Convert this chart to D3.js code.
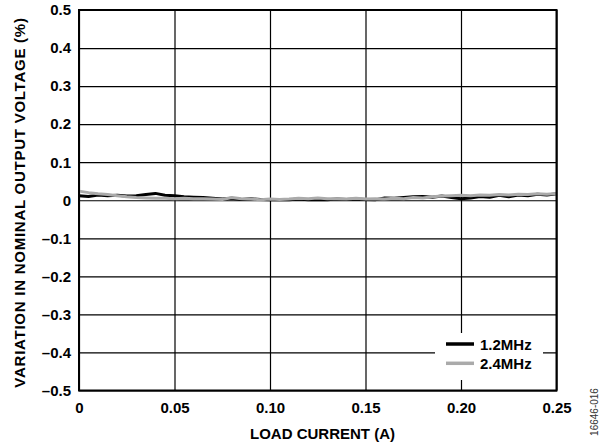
<!DOCTYPE html>
<html>
<head>
<meta charset="utf-8">
<script src="https://cdn.jsdelivr.net/npm/d3@7"></script>
<style>
  body { margin: 0; background: #fff; }
  svg { display: block; font-family: "Liberation Sans", Arial, sans-serif; }
</style>
</head>
<body>
<svg></svg>
<script>
// load regulation, 1.2MHz vs 2.4MHz

const width = 602;
const height = 444;

const margin = { top: 10, right: 45, bottom: 53.5, left: 79 };

// load current (A)
const loadCurrent = [
  0, 0.005, 0.01, 0.015, 0.02, 0.025, 0.03, 0.035, 0.04, 0.045,
  0.05, 0.055, 0.06, 0.065, 0.07, 0.075, 0.08, 0.085, 0.09, 0.095,
  0.1, 0.105, 0.11, 0.115, 0.12, 0.125, 0.13, 0.135, 0.14, 0.145,
  0.15, 0.155, 0.16, 0.165, 0.17, 0.175, 0.18, 0.185, 0.19, 0.195,
  0.2, 0.205, 0.21, 0.215, 0.22, 0.225, 0.23, 0.235, 0.24, 0.245, 0.25
];

// variation (%) at 1.2MHz
const var12 = [
  0.012, 0.010, 0.014, 0.012, 0.013, 0.011, 0.012, 0.015, 0.018, 0.013,
  0.012, 0.009, 0.008, 0.007, 0.005, 0.003, 0.005, 0.002, 0.004, 0.002,
  0.001, 0.002, 0.001, 0.003, 0.001, 0.002, 0.001, 0.003, 0.002, 0.003,
  0.002, 0.001, 0.006, 0.005, 0.007, 0.009, 0.010, 0.008, 0.011, 0.007,
  0.004, 0.006, 0.010, 0.008, 0.013, 0.009, 0.014, 0.012, 0.016, 0.014, 0.017
];

// variation (%) at 2.4MHz
const var24 = [
  0.024, 0.020, 0.017, 0.015, 0.012, 0.009, 0.007, 0.006, 0.005, 0.005,
  0.004, 0.005, 0.004, 0.004, 0.003, 0.002, 0.007, 0.004, 0.003, 0.001,
  0.003, 0.002, 0.003, 0.005, 0.004, 0.006, 0.004, 0.004, 0.003, 0.005,
  0.003, 0.004, 0.003, 0.005, 0.004, 0.007, 0.006, 0.009, 0.011, 0.012,
  0.013, 0.012, 0.014, 0.013, 0.015, 0.014, 0.016, 0.015, 0.017, 0.016, 0.018
];

const xTicks = [0, 0.05, 0.1, 0.15, 0.2, 0.25];
const xTickLabels = ["0", "0.05", "0.10", "0.15", "0.20", "0.25"];
const yTicks = [0.5, 0.4, 0.3, 0.2, 0.1, 0, -0.1, -0.2, -0.3, -0.4, -0.5];
const yTickLabels = ["0.5", "0.4", "0.3", "0.2", "0.1", "0",
  "\u20130.1", "\u20130.2", "\u20130.3", "\u20130.4", "\u20130.5"];

const seriesNames = ["1.2MHz", "2.4MHz"];
const seriesColors = ["#000000", "#aaaaaa"];

const svg = d3.select("svg").attr("width", width).attr("height", height);

const x = d3.scaleLinear()
  .domain([0, 0.25])
  .range([margin.left, width - margin.right - 0.5]);

const y = d3.scaleLinear()
  .domain([-0.5, 0.5])
  .range([height - margin.bottom, margin.top]);

// grid
svg.append("g")
  .attr("transform", `translate(0,${height - margin.bottom})`)
  .call(d3.axisBottom(x).tickValues(xTicks).tickSize(-(height - margin.bottom - margin.top)).tickFormat(""))
  .call(g => g.select(".domain").remove())
  .selectAll("line").attr("stroke", "#000").attr("stroke-width", 1.2);

svg.append("g")
  .attr("transform", `translate(${margin.left},0)`)
  .call(d3.axisLeft(y).tickValues(yTicks).tickSize(-(width - margin.right - margin.left)).tickFormat(""))
  .call(g => g.select(".domain").remove())
  .selectAll("line").attr("stroke", "#000").attr("stroke-width", 1.2);

// legend box hides grid
svg.append("rect")
  .attr("x", 435).attr("y", 333)
  .attr("width", 108).attr("height", 47)
  .attr("fill", "#fff");

// data lines
const series = [var12, var24];
const line = d3.line()
  .x((d, i) => x(loadCurrent[i]))
  .y(d => y(d));

series.forEach((s, k) => {
  svg.append("path")
    .datum(s)
    .attr("fill", "none")
    .attr("stroke", seriesColors[k])
    .attr("stroke-width", 3)
    .attr("stroke-linejoin", "round")
    .attr("d", line);
});

// frame
svg.append("rect")
  .attr("x", margin.left).attr("y", margin.top)
  .attr("width", x(0.25) - margin.left)
  .attr("height", height - margin.bottom - margin.top)
  .attr("fill", "none")
  .attr("stroke", "#000")
  .attr("stroke-width", 2);

// tick labels
svg.append("g")
  .attr("transform", `translate(0,${height - margin.bottom})`)
  .call(d3.axisBottom(x).tickValues(xTicks).tickSize(0).tickPadding(12)
    .tickFormat((d, i) => xTickLabels[i]))
  .call(g => g.select(".domain").remove())
  .selectAll("text")
  .style("font-size", "15px")
  .style("font-weight", "bold")
  .style("font-family", "Liberation Sans, Arial, sans-serif")
  .attr("fill", "#000");

svg.append("g")
  .attr("transform", `translate(${margin.left},0)`)
  .call(d3.axisLeft(y).tickValues(yTicks).tickSize(0).tickPadding(8)
    .tickFormat((d, i) => yTickLabels[i]))
  .call(g => g.select(".domain").remove())
  .selectAll("text")
  .style("font-size", "15px")
  .style("font-weight", "bold")
  .style("font-family", "Liberation Sans, Arial, sans-serif")
  .attr("fill", "#000");

// legend
const legend = svg.append("g").attr("transform", "translate(446,344)");
seriesNames.forEach((name, k) => {
  legend.append("line")
    .attr("x1", 0).attr("x2", 28)
    .attr("y1", k * 19.3).attr("y2", k * 19.3)
    .attr("stroke", seriesColors[k])
    .attr("stroke-width", 3.5);
  legend.append("text")
    .attr("x", 34).attr("y", k * 19.3 + 5.5)
    .style("font-size", "15px")
    .style("font-weight", "bold")
    .text(name);
});

// axis titles
svg.append("text")
  .attr("x", 322.5)
  .attr("y", 439)
  .style("text-anchor", "middle")
  .style("font-size", "15px")
  .style("font-weight", "bold")
  .text("LOAD CURRENT (A)");

svg.append("text")
  .attr("transform", "rotate(-90)")
  .attr("x", -202.5)
  .attr("y", 25)
  .style("text-anchor", "middle")
  .style("font-size", "15px")
  .style("font-weight", "bold")
  .style("letter-spacing", "0.75px")
  .text("VARIATION IN NOMINAL OUTPUT VOLTAGE (%)");

svg.append("text")
  .attr("transform", "rotate(-90)")
  .attr("x", -412)
  .attr("y", 598)
  .style("text-anchor", "middle")
  .style("font-size", "10px")
  .attr("fill", "#333")
  .text("16646-016");
</script>
</body>
</html>
